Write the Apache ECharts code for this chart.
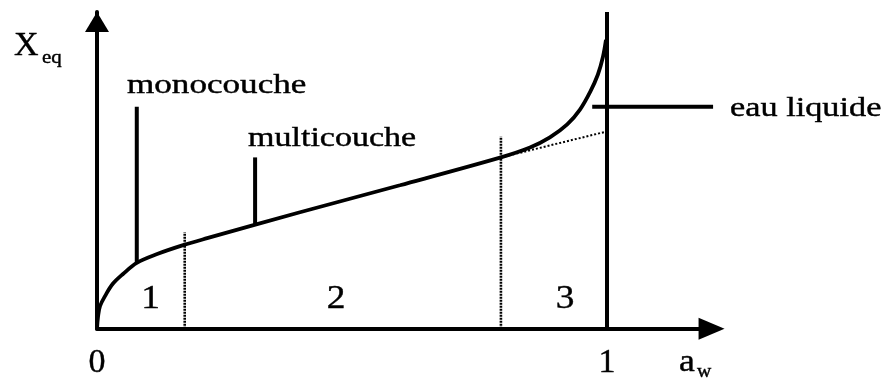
<!DOCTYPE html>
<html>
<head>
<meta charset="utf-8">
<script src="https://cdn.jsdelivr.net/npm/echarts@6/dist/echarts.min.js"></script>
<style>
  html, body { margin: 0; padding: 0; background: #fff; }
  #chart { width: 888px; height: 380px; }
</style>
</head>
<body>
<div id="chart"></div>
<script>
// Sorption isotherm: water activity a_w vs equilibrium moisture X_eq (arbitrary units)
const isothermAw = [0, 0.002, 0.006, 0.016, 0.031, 0.051, 0.078, 0.118, 0.169, 0.216, 0.398, 0.594, 0.792, 0.849, 0.888, 0.922, 0.947, 0.967, 0.982, 0.992, 0.998];
const isothermX  = [0, 3.8, 7.2, 10.4, 14.2, 17.3, 20.8, 23.6, 26.4, 28.6, 36.8, 45.3, 54.1, 57.2, 60.4, 64.5, 69.2, 74.8, 80.2, 85.8, 91.2];

// Linear (multilayer) trend extended into zone 3
const trendAw = [0.792, 1.0];
const trendX  = [54.1, 62.3];

// Zone boundaries (dotted verticals) and their heights
const boundaryAw = [0.172, 0.792];
const boundaryTop = [30.5, 60.7];

// Zone numbers and their centres on the a_w axis
const zoneNames = ['1', '2', '3'];
const zoneCentres = [0.105, 0.469, 0.918];

// Tick labels on the a_w axis
const tickValues = [0, 1];
const tickLabels = ['0', '1'];

// Callout lines: [a_w start, X start, a_w end, X end]
const calloutNames = ['monocouche', 'multicouche', 'eau liquide'];
const calloutLines = [
  [0.078, 20.8, 0.078, 70.1],
  [0.310, 32.8, 0.310, 54.1],
  [0.971, 70.1, 1.208, 70.1]
];

const AW_MAX = 1.205;
const X_MAX = 100;
const SERIF = '"Liberation Serif", "Times New Roman", serif';

const chart = echarts.init(document.getElementById('chart'), null, { renderer: 'canvas' });

function pairs(xs, ys) { return xs.map((x, i) => [x, ys[i]]); }

const black = '#000';
const series = [];

// Main isotherm curve
series.push({
  type: 'line', data: pairs(isothermAw, isothermX), smooth: 0.35,
  showSymbol: false, lineStyle: { color: black, width: 3.8 }, z: 5
});
// Extended linear trend (dotted)
series.push({
  type: 'line', data: pairs(trendAw, trendX), showSymbol: false,
  lineStyle: { color: black, width: 2, type: [2, 2] }, z: 4
});
// Zone boundaries
boundaryAw.forEach((a, i) => {
  series.push({
    type: 'line', data: [[a, 0], [a, boundaryTop[i]]], showSymbol: false,
    lineStyle: { color: black, width: 2.6, type: [2, 1] }, z: 3
  });
});
// a_w = 1 vertical
series.push({
  type: 'line', data: [[1, 0], [1, X_MAX]], showSymbol: false,
  lineStyle: { color: black, width: 4 }, z: 6
});
// Callout lines
calloutLines.forEach(c => {
  series.push({
    type: 'line', data: [[c[0], c[1]], [c[2], c[3]]], showSymbol: false, clip: false,
    lineStyle: { color: black, width: 4, cap: 'butt' }, z: 6
  });
});

chart.setOption({
  animation: false,
  backgroundColor: '#fff',
  grid: { left: 97, top: 12, width: AW_MAX * 510, height: 318 },
  xAxis: {
    type: 'value', min: 0, max: AW_MAX, interval: 1,
    splitLine: { show: false }, axisTick: { show: false },
    axisLine: {
      lineStyle: { color: black, width: 4 },
      symbol: ['none', 'triangle'], symbolSize: [22, 26], symbolOffset: [0, 0]
    },
    axisLabel: {
      margin: 17, fontSize: 34, fontFamily: SERIF, color: '#000',
      textBorderColor: '#000', textBorderWidth: 0.4,
      showMaxLabel: false,
      formatter: v => { const k = tickValues.indexOf(v); return k >= 0 ? tickLabels[k] : ''; }
    }
  },
  yAxis: {
    type: 'value', min: 0, max: X_MAX,
    splitLine: { show: false }, axisTick: { show: false }, axisLabel: { show: false },
    axisLine: {
      lineStyle: { color: black, width: 4 },
      symbol: ['none', 'triangle'], symbolSize: [24, 20], symbolOffset: [0, -10]
    }
  },
  series: series
});

// Text annotations
function txt(text, x, baseline, size, opts) {
  opts = opts || {};
  return {
    type: 'text', x: x, y: baseline - 0.34 * size, scaleX: opts.scaleX || 1, z: 10,
    style: {
      text: text, fill: '#000', font: size + 'px ' + SERIF,
      stroke: '#000', lineWidth: 0.4,
      align: opts.align || 'left', verticalAlign: 'middle'
    }
  };
}

const px = (a, x) => chart.convertToPixel({ gridIndex: 0 }, [a, x]);
const axisY = px(0, 0)[1];
const graphics = [];

// Axis names
graphics.push(txt('X', 14, 58, 34, { scaleX: 1.0 }));
graphics.push(txt('eq', 42, 64, 19, { scaleX: 1.1 }));
graphics.push(txt('a', 679, 373, 31, { scaleX: 1.15 }));
graphics.push(txt('w', 697, 378, 18, { scaleX: 1.1 }));

// Zone numbers
zoneNames.forEach((n, i) => {
  graphics.push(txt(n, px(zoneCentres[i], 0)[0], axisY - 18, 34, { align: 'center', scaleX: 1.1 }));
});

// Callout labels
graphics.push(txt(calloutNames[0], 127, 95, 27, { scaleX: 1.3 }));
graphics.push(txt(calloutNames[1], 248, 148, 27, { scaleX: 1.26 }));
graphics.push(txt(calloutNames[2], 730, 118, 27, { scaleX: 1.27 }));

chart.setOption({ graphic: graphics });
</script>
</body>
</html>
